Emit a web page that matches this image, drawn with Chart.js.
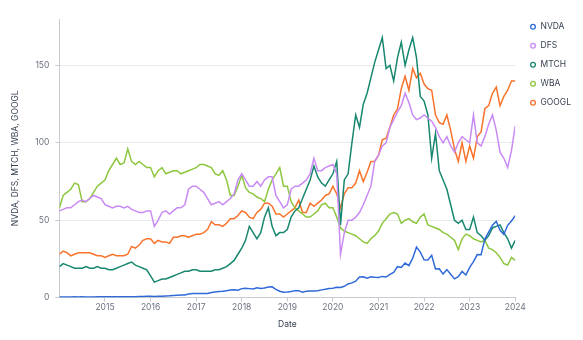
<!DOCTYPE html>
<html>
<head>
<meta charset="utf-8">
<script src="https://cdn.jsdelivr.net/npm/chart.js@4.4.1/dist/chart.umd.min.js"></script>
<style>
  html, body { margin: 0; padding: 0; background: #fff; }
  #wrap { width: 583px; height: 340px; }
</style>
</head>
<body>
<div id="wrap"><canvas id="stocks"></canvas></div>
<script>
// месячные значения, янв 2014 .. янв 2024
const startYear = 2014;
const yearTicks = [2015, 2016, 2017, 2018, 2019, 2020, 2021, 2022, 2023, 2024];
const seriesNames = ['NVDA', 'DFS', 'MTCH', 'WBA', 'GOOGL'];
const seriesColors = ['#2f6ad8', '#c98af5', '#17876f', '#8dc63f', '#f8732c'];

const nvda = [
  0.40, 0.39, 0.45, 0.45, 0.47, 0.46, 0.47, 0.45, 0.46, 0.46, 0.47, 0.50,
  0.50, 0.55, 0.52, 0.55, 0.52, 0.50, 0.52, 0.55, 0.60, 0.65, 0.75, 0.82,
  0.80, 0.75, 0.85, 0.90, 1.10, 1.20, 1.40, 1.55, 1.65, 1.75, 2.30, 2.60,
  2.60, 2.70, 2.70, 2.60, 3.30, 3.60, 3.90, 4.10, 4.40, 4.90, 5.00, 4.80,
  5.80, 6.00, 5.80, 5.60, 6.30, 5.90, 6.20, 6.90, 7.00, 5.30, 4.10, 3.40,
  3.60, 3.90, 4.50, 4.50, 3.50, 4.10, 4.20, 4.20, 4.40, 5.00, 5.40, 5.90,
  6.00, 6.70, 6.60, 7.30, 8.80, 9.50, 10.6, 13.3, 13.5, 12.5, 13.4, 13.1,
  13.0, 13.7, 13.3, 15.0, 16.2, 20.0, 19.5, 22.3, 20.7, 25.5, 32.6, 29.4,
  24.4, 24.3, 27.3, 18.5, 18.6, 15.2, 18.1, 15.1, 12.1, 13.5, 16.9, 14.6,
  19.5, 23.2, 27.8, 27.7, 37.8, 42.3, 46.7, 49.3, 43.5, 40.8, 46.7, 49.5,
  53.0
];
const dfs = [
  56, 57, 58, 58, 60, 62, 63, 62, 64, 66, 65, 64,
  60, 59, 58, 59, 59, 58, 59, 57, 56, 55, 55, 56,
  56, 46, 50, 55, 56, 54, 56, 58, 58, 60, 70, 72,
  72, 70, 68, 64, 60, 61, 62, 60, 62, 64, 67, 76,
  80, 76, 72, 72, 75, 72, 76, 78, 78, 66, 62, 58,
  60, 70, 72, 72, 74, 76, 80, 90, 82, 82, 84, 85,
  86, 80, 28, 42, 50, 50, 52, 55, 60, 66, 72, 88,
  92, 98, 100, 110, 115, 120, 124, 132, 126, 118, 115, 116,
  118, 116, 114, 110, 104, 100, 104, 98, 94, 100, 104, 102,
  100, 118, 100, 98, 104, 112, 118, 108, 94, 90, 84, 95,
  111
];
const mtch = [
  20, 22, 21, 20, 19, 19, 19, 20, 19, 19, 20, 19,
  19, 18, 18, 19, 20, 21, 22, 23, 21, 20, 19, 18,
  14, 10, 11, 12, 12, 13, 14, 15, 16, 17, 17, 18,
  18, 17, 17, 17, 17, 18, 18, 19, 20, 22, 24, 28,
  32, 37, 46, 42, 38, 42, 52, 58, 46, 40, 42, 42,
  44, 52, 56, 58, 64, 70, 76, 85, 78, 74, 72, 76,
  80, 88, 47, 76, 80, 100, 118, 110, 125, 132, 142, 152,
  160, 168, 148, 150, 140, 155, 165, 150, 160, 168, 155, 130,
  127, 118, 90, 106, 82, 76, 70, 60, 50, 48, 50, 44,
  44, 52, 42, 40, 37, 40, 45, 46, 47, 42, 38, 32,
  37
];
const wba = [
  58, 66, 68, 70, 74, 73, 62, 62, 64, 68, 72, 74,
  76, 82, 86, 90, 86, 87, 96, 88, 86, 88, 86, 84,
  84, 78, 82, 84, 80, 81, 82, 82, 80, 81, 82, 83,
  84, 86, 86, 85, 84, 80, 79, 82, 76, 66, 66, 72,
  79, 71, 68, 67, 65, 64, 62, 70, 76, 80, 84, 72,
  72, 62, 58, 56, 54, 52, 52, 54, 56, 60, 61, 58,
  58, 52, 45, 43, 42, 41, 40, 38, 36, 35, 38, 40,
  43, 48, 51, 54, 55, 54, 48, 50, 51, 49, 48, 52,
  54, 47, 46, 45, 44, 42, 41, 39, 37, 31, 38, 41,
  40, 38, 37, 36, 37, 32, 31, 29, 26, 22, 21, 26,
  24
];
const googl = [
  28, 30, 29, 27, 28, 29, 29, 29, 29, 28, 27, 27,
  26, 27, 28, 27, 27, 27, 28, 33, 32, 34, 37, 38,
  38, 35, 37, 36, 36, 35, 39, 39, 40, 40, 39, 40,
  41, 41, 42, 44, 49, 47, 47, 46, 48, 51, 51, 53,
  56, 55, 52, 51, 55, 57, 61, 61, 59, 54, 54, 52,
  54, 56, 58, 63, 55, 55, 61, 59, 61, 63, 66, 67,
  72, 67, 58, 67, 71, 71, 74, 82, 75, 81, 88, 88,
  92, 102, 103, 110, 118, 122, 135, 143, 134, 148, 142, 145,
  138, 135, 134, 118, 113, 112, 118, 108, 96, 88, 100, 88,
  98, 90, 104, 107, 122, 124, 132, 136, 124, 130, 134, 140,
  140
];

const allValues = [nvda, dfs, mtch, wba, googl];

// точки {x: год с дробью, y: цена}
function toPoints(values) {
  return values.map((v, i) => ({ x: startYear + i / 12, y: v }));
}

const datasets = seriesNames.map((name, k) => ({
  label: name,
  data: toPoints(allValues[k]),
  borderColor: seriesColors[k],
  backgroundColor: '#ffffff',
  borderWidth: 1.5,
  pointRadius: 0,
  pointHoverRadius: 0,
  tension: 0,
}));

Chart.defaults.font.family = 'Inter, "Noto Sans", sans-serif';
Chart.defaults.color = '#6b7280';
const fontSize = 8.5;

// тонкие кружки в легенде
const defaultLabels = Chart.defaults.plugins.legend.labels.generateLabels;

// сдвиг легенды: чуть правее и выше
const legendShift = {
  id: 'legendShift',
  afterLayout(chart) {
    const l = chart.legend;
    l.left += 4; l.right += 4;
    l.top -= 7; l.bottom -= 7;
  },
};

new Chart(document.getElementById('stocks').getContext('2d'), {
  type: 'line',
  data: { datasets: datasets },
  plugins: [legendShift],
  options: {
    responsive: true,
    maintainAspectRatio: false,
    animation: false,
    layout: { padding: { left: 6, right: 6, top: 19, bottom: 10 } },
    plugins: {
      legend: {
        position: 'right',
        align: 'start',
        labels: {
          usePointStyle: true,
          pointStyle: 'circle',
          boxWidth: 6.5,
          boxHeight: 3.3,
          padding: 10.5,
          color: '#374151',
          font: { size: fontSize },
          generateLabels: (chart) =>
            defaultLabels(chart).map((l) => Object.assign(l, { lineWidth: 1.3 })),
        },
      },
      tooltip: { enabled: false },
    },
    scales: {
      x: {
        type: 'linear',
        min: 2014,
        max: 2024,
        afterBuildTicks: (axis) => {
          axis.ticks = yearTicks.map((y) => ({ value: y }));
        },
        ticks: {
          callback: (v) => String(v),
          font: { size: fontSize },
          maxRotation: 0,
          padding: 1,
        },
        grid: { drawOnChartArea: false, drawTicks: true, tickLength: 4, color: '#c7cbd1' },
        border: { display: true, color: '#c7cbd1' },
        title: { display: true, text: 'Date', font: { size: fontSize }, color: '#374151', padding: { top: 6, bottom: 0 } },
      },
      y: {
        min: 0,
        max: 180,
        afterBuildTicks: (axis) => {
          axis.ticks = axis.ticks.filter((t) => t.value % 50 === 0);
        },
        ticks: { stepSize: 50, font: { size: fontSize }, padding: 6 },
        grid: { color: '#e8eaee', tickColor: '#c7cbd1', drawTicks: true, tickLength: 4 },
        border: { display: true, color: '#c7cbd1' },
        title: {
          display: true,
          text: 'NVDA, DFS, MTCH, WBA, GOOGL',
          font: { size: fontSize },
          color: '#374151',
          padding: { top: 4, bottom: 9 },
        },
      },
    },
  },
});
</script>
</body>
</html>
